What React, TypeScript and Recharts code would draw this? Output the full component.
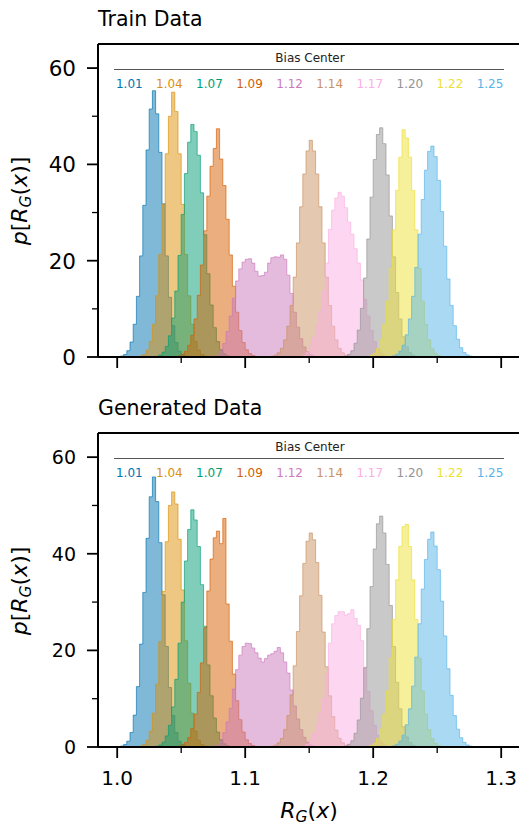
import React from 'react';
import { ComposedChart, Area, XAxis, YAxis, ReferenceLine } from 'recharts';

// ---------- data ----------
const BIN_WIDTH = 0.0025;
const BIAS_CENTERS = ['1.01', '1.04', '1.07', '1.09', '1.12', '1.14', '1.17', '1.20', '1.22', '1.25'];
const X_TICKS = [1.0, 1.05, 1.1, 1.15, 1.2, 1.25, 1.3];
const Y_TICKS = [0, 10, 20, 30, 40, 50, 60];

// left edge of the first bin of each histogram
const trainStarts = [1.0025, 1.0175, 1.03, 1.0475, 1.0775, 1.12, 1.145, 1.1775, 1.195, 1.2125];
const train101 = [0.2, 0.5, 1.3, 3.1, 6.8, 12.6, 21.0, 31.5, 43.0, 51.5, 55.3, 50.5, 42.5, 31.8, 21.0, 12.4, 6.5, 3.0, 1.2, 0.5, 0.2];
const train104 = [0.2, 0.5, 1.4, 3.2, 6.8, 12.7, 21.3, 31.7, 42.2, 50.0, 55.0, 51.0, 42.2, 31.7, 21.3, 12.7, 6.8, 3.2, 1.4, 0.5, 0.2];
const train107 = [0.15, 0.4, 1.0, 2.2, 4.4, 8.1, 13.7, 21.1, 29.6, 38.1, 44.6, 48.3, 46.8, 41.9, 34.1, 25.4, 17.3, 10.8, 6.1, 3.2, 1.5, 0.65, 0.25];
const train109 = [0.23, 0.55, 1.2, 2.4, 4.5, 7.9, 12.8, 19.1, 26.2, 33.4, 39.6, 43.3, 47.4, 41.1, 35.6, 28.6, 21.2, 14.7, 9.3, 5.5, 3.0, 1.5, 0.72, 0.31, 0.12];
const train112 = [0.3, 1.2, 2.8, 5.3, 8.5, 12.2, 15.8, 18.3, 19.7, 20.3, 20.4, 19.5, 17.8, 16.8, 16.9, 17.6, 19.5, 20.6, 20.8, 20.7, 21.2, 20.3, 17.0, 13.2, 9.3, 6.2, 3.8, 2.1, 1.1, 0.5, 0.2];
const train114 = [0.16, 0.38, 0.86, 1.8, 3.55, 6.4, 10.7, 16.6, 23.7, 31.2, 38.0, 42.8, 45.0, 42.8, 38.0, 31.2, 23.7, 16.6, 10.7, 6.4, 3.55, 1.8, 0.86, 0.38, 0.16];
const train117 = [0.3, 1.0, 2.3, 4.0, 6.5, 9.5, 13.5, 19.5, 26.5, 30.5, 33.0, 34.2, 33.4, 31.0, 28.0, 25.5, 22.5, 19.5, 16.0, 12.0, 8.5, 5.5, 3.2, 1.7, 0.8, 0.3];
const train120 = [0.2, 0.56, 1.3, 2.85, 5.6, 10.1, 16.4, 24.5, 33.2, 41.0, 46.2, 47.6, 44.3, 37.8, 29.3, 20.8, 13.4, 7.9, 4.2, 2.1, 0.92, 0.38, 0.14];
const train122 = [0.12, 0.31, 0.77, 1.73, 3.6, 6.8, 11.6, 18.4, 26.4, 34.6, 41.5, 47.2, 45.5, 41.5, 34.6, 26.4, 18.4, 11.6, 6.8, 3.6, 1.73, 0.77, 0.31, 0.12];
const train125 = [0.1, 0.25, 0.57, 1.23, 2.45, 4.6, 7.9, 12.6, 18.6, 25.5, 32.7, 38.8, 42.7, 43.8, 41.6, 36.7, 30.2, 23.0, 16.2, 10.7, 6.5, 3.7, 1.93, 0.95, 0.43, 0.18];

const genStarts = [1.0025, 1.0175, 1.03, 1.0475, 1.0775, 1.12, 1.145, 1.1775, 1.195, 1.2125];
const gen101 = [0.2, 0.5, 1.2, 3.0, 6.6, 12.5, 21.3, 32.0, 43.2, 51.8, 55.9, 50.8, 42.3, 31.5, 20.8, 12.3, 6.5, 3.0, 1.2, 0.5, 0.2];
const gen104 = [0.2, 0.5, 1.4, 3.3, 7.0, 13.0, 21.8, 32.2, 42.5, 50.0, 52.8, 50.3, 43.0, 32.5, 22.0, 13.2, 7.0, 3.3, 1.4, 0.5, 0.2];
const gen107 = [0.15, 0.4, 1.0, 2.3, 4.5, 8.3, 14.0, 21.5, 30.0, 38.5, 45.0, 49.1, 47.0, 41.5, 33.6, 25.0, 17.0, 10.6, 6.0, 3.1, 1.5, 0.65, 0.25];
const gen109 = [0.16, 0.4, 0.93, 1.96, 3.8, 6.8, 11.3, 17.4, 24.7, 32.3, 38.9, 43.3, 44.7, 42.1, 47.3, 29.6, 21.9, 15.1, 9.6, 5.65, 3.1, 1.5, 0.7, 0.3, 0.13];
const gen112 = [0.4, 1.3, 3.0, 5.2, 8.0, 12.0, 16.0, 19.0, 20.8, 21.5, 21.4, 20.5, 19.5, 18.4, 17.6, 18.3, 19.0, 19.3, 19.8, 20.6, 19.5, 17.6, 15.3, 11.8, 8.5, 5.8, 3.6, 2.0, 1.0, 0.4, 0.15];
const gen114 = [0.16, 0.38, 0.86, 1.8, 3.6, 6.5, 10.8, 16.8, 23.9, 31.3, 38.0, 42.6, 44.3, 42.9, 38.2, 31.4, 23.8, 16.6, 10.6, 6.3, 3.5, 1.8, 0.86, 0.38, 0.16];
const gen117 = [0.2, 0.6, 1.5, 2.8, 4.6, 7.0, 10.0, 15.0, 21.5, 25.5, 27.2, 28.0, 28.0, 27.3, 27.6, 28.4, 26.6, 25.2, 22.0, 16.5, 11.5, 7.5, 4.5, 2.4, 1.1, 0.4];
const gen120 = [0.2, 0.56, 1.3, 2.85, 5.6, 10.1, 16.4, 24.5, 33.2, 41.0, 46.2, 47.8, 44.3, 37.8, 29.3, 20.8, 13.4, 7.9, 4.2, 2.1, 0.92, 0.38, 0.14];
const gen122 = [0.12, 0.31, 0.77, 1.73, 3.6, 6.8, 11.6, 18.4, 26.4, 34.6, 41.5, 45.6, 46.1, 41.5, 34.6, 26.4, 18.4, 11.6, 6.8, 3.6, 1.73, 0.77, 0.31, 0.12];
const gen125 = [0.1, 0.25, 0.57, 1.23, 2.45, 4.6, 7.9, 12.6, 18.6, 25.5, 32.7, 38.8, 43.0, 44.5, 41.6, 36.7, 30.2, 23.0, 16.2, 10.7, 6.5, 3.7, 1.93, 0.95, 0.43, 0.18];

const trainSeries = [train101, train104, train107, train109, train112, train114, train117, train120, train122, train125];
const genSeries = [gen101, gen104, gen107, gen109, gen112, gen114, gen117, gen120, gen122, gen125];

// ---------- style ----------
const PALETTE = ['#0173b2', '#de8f05', '#029e73', '#d55e00', '#cc78bc', '#ca9161', '#fbafe4', '#949494', '#ece133', '#56b4e9'];
const FONT = '"DejaVu Sans", sans-serif';
const X_MIN = 0.985;
const X_MAX = 0.985 + 421 / 1280;

function buildTable(starts: number[], series: number[][]) {
  const rows = new Map<number, any>();
  series.forEach((vals, s) => {
    const i0 = Math.round((starts[s] - 1) / BIN_WIDTH);
    [...vals, 0].forEach((v, k) => {
      const idx = i0 + k;
      if (!rows.has(idx)) {
        const r: any = { x: 1 + idx * BIN_WIDTH };
        series.forEach((_, j) => (r['s' + j] = null));
        rows.set(idx, r);
      }
      rows.get(idx)['s' + s] = v;
    });
  });
  return [...rows.keys()].sort((a, b) => a - b).map((k) => rows.get(k));
}

const trainTable = buildTable(trainStarts, trainSeries);
const genTable = buildTable(genStarts, genSeries);

const makeXTick = (axisY: number, labels: boolean) => (props: any) => {
  const { x, payload } = props;
  const v = payload.value as number;
  const major = Math.abs(v * 10 - Math.round(v * 10)) < 1e-6;
  return (
    <g>
      <line x1={x} x2={x} y1={axisY} y2={axisY + (major ? 11 : 6)} stroke="#000" strokeWidth={major ? 1.8 : 1.3} />
      {labels && major ? (
        <text x={x} y={axisY + 38} textAnchor="middle" fontSize={20} fontFamily={FONT} fill="#000">
          {v.toFixed(1)}
        </text>
      ) : null}
    </g>
  );
};

const makeYTick = (fontSize: number) => (props: any) => {
  const { y, payload } = props;
  const v = payload.value as number;
  const major = v % 20 === 0;
  return (
    <g>
      <line x1={98 - (major ? 11 : 6)} x2={98} y1={y} y2={y} stroke="#000" strokeWidth={major ? 1.8 : 1.3} />
      {major ? (
        <text x={76} y={y + fontSize * 0.365} textAnchor="end" fontSize={fontSize} fontFamily={FONT} fill="#000">
          {v}
        </text>
      ) : null}
    </g>
  );
};

function Panel({ data, axisY, labels, height, xAxisHeight, yFont }: any) {
  return (
    <ComposedChart width={519} height={height} data={data} margin={{ top: 44, right: 0, bottom: 0, left: 0 }}>
      <XAxis
        dataKey="x"
        type="number"
        domain={[X_MIN, X_MAX]}
        allowDataOverflow
        ticks={X_TICKS}
        interval={0}
        height={xAxisHeight}
        axisLine={{ stroke: '#000', strokeWidth: 2 }}
        tickLine={false}
        tick={makeXTick(axisY, labels)}
      />
      <YAxis
        type="number"
        domain={[0, 65]}
        allowDataOverflow
        ticks={Y_TICKS}
        interval={0}
        width={98}
        axisLine={{ stroke: '#000', strokeWidth: 2 }}
        tickLine={false}
        tick={makeYTick(yFont)}
      />
      {PALETTE.map((c, i) => (
        <Area
          key={i}
          type="stepAfter"
          dataKey={'s' + i}
          stroke={c}
          strokeOpacity={0.65}
          strokeWidth={1}
          fill={c}
          fillOpacity={0.5}
          dot={false}
          activeDot={false}
          connectNulls={false}
          isAnimationActive={false}
        />
      ))}
      <ReferenceLine y={65} stroke="#000" strokeWidth={2} />
    </ComposedChart>
  );
}

function Legend({ o }: { o: number }) {
  return (
    <g>
      <text x={310} y={61.5 + o} textAnchor="middle" fontSize={12} fontFamily={FONT} fill="#222">
        Bias Center
      </text>
      <line x1={114} x2={504} y1={69.5 + o} y2={69.5 + o} stroke="#555" strokeWidth={1} />
      {BIAS_CENTERS.map((b, i) => (
        <text key={b} x={129.3 + i * 40.08} y={88 + o} textAnchor="middle" fontSize={12} fontFamily={FONT} fill={PALETTE[i]}>
          {b}
        </text>
      ))}
    </g>
  );
}

function YLabel({ cy }: { cy: number }) {
  return (
    <text transform={`translate(27,${cy}) rotate(-90)`} textAnchor="middle" fontSize={22} fontFamily={FONT} fill="#000">
      <tspan fontStyle="italic">p</tspan>
      <tspan>[</tspan>
      <tspan fontStyle="italic">R</tspan>
      <tspan fontStyle="italic" fontSize={15.5} dy={3.5}>G</tspan>
      <tspan dy={-3.5}>(</tspan>
      <tspan fontStyle="italic">x</tspan>
      <tspan>)]</tspan>
    </text>
  );
}

export default function App() {
  return (
    <div style={{ position: 'absolute', left: 0, top: 0, width: 519, height: 825, overflow: 'hidden', background: '#fff' }}>
      <div style={{ position: 'absolute', left: 0, top: 0 }}>
        <Panel data={trainTable} axisY={357} labels={false} height={400} xAxisHeight={43} yFont={21.5} />
      </div>
      <div style={{ position: 'absolute', left: 0, top: 389 }}>
        <Panel data={genTable} axisY={358} labels={true} height={436} xAxisHeight={78} yFont={19} />
      </div>
      <svg width={519} height={825} style={{ position: 'absolute', left: 0, top: 0, pointerEvents: 'none' }}>
        <text x={98} y={26} fontSize={20.5} fontFamily={FONT} fill="#000">Train Data</text>
        <text x={98} y={415} fontSize={20.5} fontFamily={FONT} fill="#000">Generated Data</text>
        <Legend o={0} />
        <Legend o={389} />
        <YLabel cy={201} />
        <YLabel cy={591} />
        <text x={309} y={818} textAnchor="middle" fontSize={22} fontFamily={FONT} fill="#000">
          <tspan fontStyle="italic">R</tspan>
          <tspan fontStyle="italic" fontSize={15.5} dy={3.5}>G</tspan>
          <tspan dy={-3.5}>(</tspan>
          <tspan fontStyle="italic">x</tspan>
          <tspan>)</tspan>
        </text>
      </svg>
    </div>
  );
}
